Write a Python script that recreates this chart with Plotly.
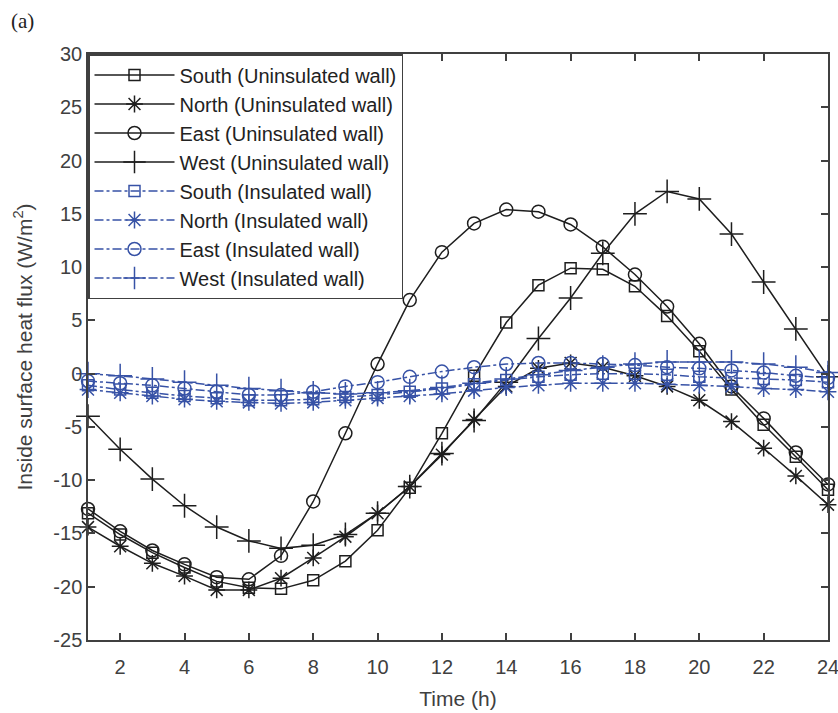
import plotly.graph_objects as go

hours = list(range(1, 25))

south_uninsulated = [-13.1, -15.1, -16.8, -18.2, -19.5, -20.1, -20.2, -19.4, -17.6, -14.7, -10.7, -5.6,
                     -0.2, 4.8, 8.3, 9.9, 9.8, 8.2, 5.4, 2.1, -1.5, -4.8, -7.8, -10.9]
north_uninsulated = [-14.4, -16.2, -17.8, -19.0, -20.3, -20.3, -19.2, -17.3, -15.3, -13.1, -10.6, -7.6,
                     -4.3, -1.2, 0.5, 1.0, 0.6, -0.2, -1.2, -2.5, -4.5, -7.0, -9.6, -12.3]
east_uninsulated = [-12.7, -14.8, -16.6, -17.9, -19.1, -19.3, -17.1, -12.0, -5.6, 0.9, 6.9, 11.4,
                    14.1, 15.4, 15.2, 14.0, 11.9, 9.3, 6.3, 2.8, -1.2, -4.2, -7.4, -10.4]
west_uninsulated = [-4.0, -7.1, -9.9, -12.4, -14.4, -15.7, -16.4, -16.1, -15.1, -13.1, -10.6, -7.5,
                    -4.4, -0.8, 3.3, 7.1, 11.3, 15.0, 17.1, 16.4, 13.1, 8.6, 4.2, -0.3]

south_insulated = [-1.1, -1.5, -1.8, -2.1, -2.3, -2.5, -2.5, -2.4, -2.2, -2.0, -1.7, -1.4,
                   -1.0, -0.6, -0.3, -0.1, 0.0, 0.0, -0.1, -0.3, -0.4, -0.5, -0.6, -0.8]
north_insulated = [-1.5, -1.8, -2.1, -2.4, -2.6, -2.7, -2.8, -2.7, -2.5, -2.3, -2.1, -1.9,
                   -1.6, -1.3, -1.1, -0.9, -0.9, -0.9, -1.0, -1.1, -1.2, -1.4, -1.5, -1.7]
east_insulated = [-0.7, -0.9, -1.1, -1.4, -1.7, -2.0, -2.0, -1.7, -1.2, -0.8, -0.3, 0.2,
                  0.6, 0.9, 1.0, 1.0, 0.9, 0.8, 0.6, 0.5, 0.3, 0.1, -0.2, -0.4]
west_insulated = [0.0, -0.2, -0.5, -0.8, -1.1, -1.4, -1.6, -1.8, -1.9, -1.8, -1.6, -1.3,
                  -0.9, -0.5, -0.1, 0.3, 0.6, 0.9, 1.1, 1.1, 1.1, 0.9, 0.6, 0.1]

x_ticks = list(range(2, 25, 2))
y_ticks = list(range(-25, 31, 5))

BLACK = "#1e1e1e"
BLUE = "#3752a6"
AXIS = "#404040"

series = [
    ("South (Uninsulated wall)", south_uninsulated, "square-open", 11, BLACK, "solid"),
    ("North (Uninsulated wall)", north_uninsulated, "asterisk-open", 14, BLACK, "solid"),
    ("East (Uninsulated wall)", east_uninsulated, "circle-open", 13, BLACK, "solid"),
    ("West (Uninsulated wall)", west_uninsulated, "cross-thin-open", 17, BLACK, "solid"),
    ("South (Insulated wall)", south_insulated, "square-open", 11, BLUE, "dashdot"),
    ("North (Insulated wall)", north_insulated, "asterisk-open", 14, BLUE, "dashdot"),
    ("East (Insulated wall)", east_insulated, "circle-open", 13, BLUE, "dashdot"),
    ("West (Insulated wall)", west_insulated, "cross-thin-open", 17, BLUE, "dashdot"),
]

fig = go.Figure()
for name, vals, sym, size, col, dash in series:
    fig.add_trace(go.Scatter(
        x=hours, y=vals, name=name, mode="lines+markers",
        line=dict(color=col, width=1.5, dash=dash),
        marker=dict(symbol=sym, size=size, color=col,
                    line=dict(color=col, width=1.5)),
        cliponaxis=False,
    ))

fig.update_layout(
    width=838, height=713,
    margin=dict(l=88, r=10, t=54, b=73),
    paper_bgcolor="white", plot_bgcolor="white",
    font=dict(family="Liberation Sans, Arial, sans-serif", color=AXIS, size=19),
    showlegend=True,
    legend=dict(
        x=0, y=1, xanchor="left", yanchor="top",
        bgcolor="white", bordercolor=AXIS, borderwidth=1.5,
        font=dict(size=20, color="#222222"),
        itemwidth=80, tracegroupgap=0,
    ),
    annotations=[dict(
        text="(a)", x=-0.107, y=1.057, xref="paper", yref="paper",
        xanchor="left", yanchor="middle", showarrow=False,
        font=dict(family="Liberation Serif, serif", size=21, color="#222222"),
    )],
)

fig.update_xaxes(
    range=[1, 24], tickvals=x_ticks, ticktext=[str(v) for v in x_ticks],
    showgrid=False, zeroline=False, showline=True, linecolor=AXIS, linewidth=1.5,
    mirror="ticks", ticks="inside", ticklen=7, tickwidth=1.5, tickcolor=AXIS,
    tickfont=dict(size=20, color=AXIS), automargin=False, ticklabelstandoff=8,
    ticklabeloverflow="allow",
    title=dict(text="Time (h)", font=dict(size=21, color=AXIS)),
)
fig.update_yaxes(
    range=[-25, 30], tickvals=y_ticks, ticktext=[str(v) for v in y_ticks],
    showgrid=False, zeroline=False, showline=True, linecolor=AXIS, linewidth=1.5,
    mirror="ticks", ticks="inside", ticklen=7, tickwidth=1.5, tickcolor=AXIS,
    tickfont=dict(size=20, color=AXIS), automargin=False, ticklabeloverflow="allow",
    title=dict(text="Inside surface heat flux (W/m<sup>2</sup>)", font=dict(size=21, color=AXIS)),
)

fig.write_html("out.html", config={"displayModeBar": False},
               post_script="document.body.style.margin='0';")
